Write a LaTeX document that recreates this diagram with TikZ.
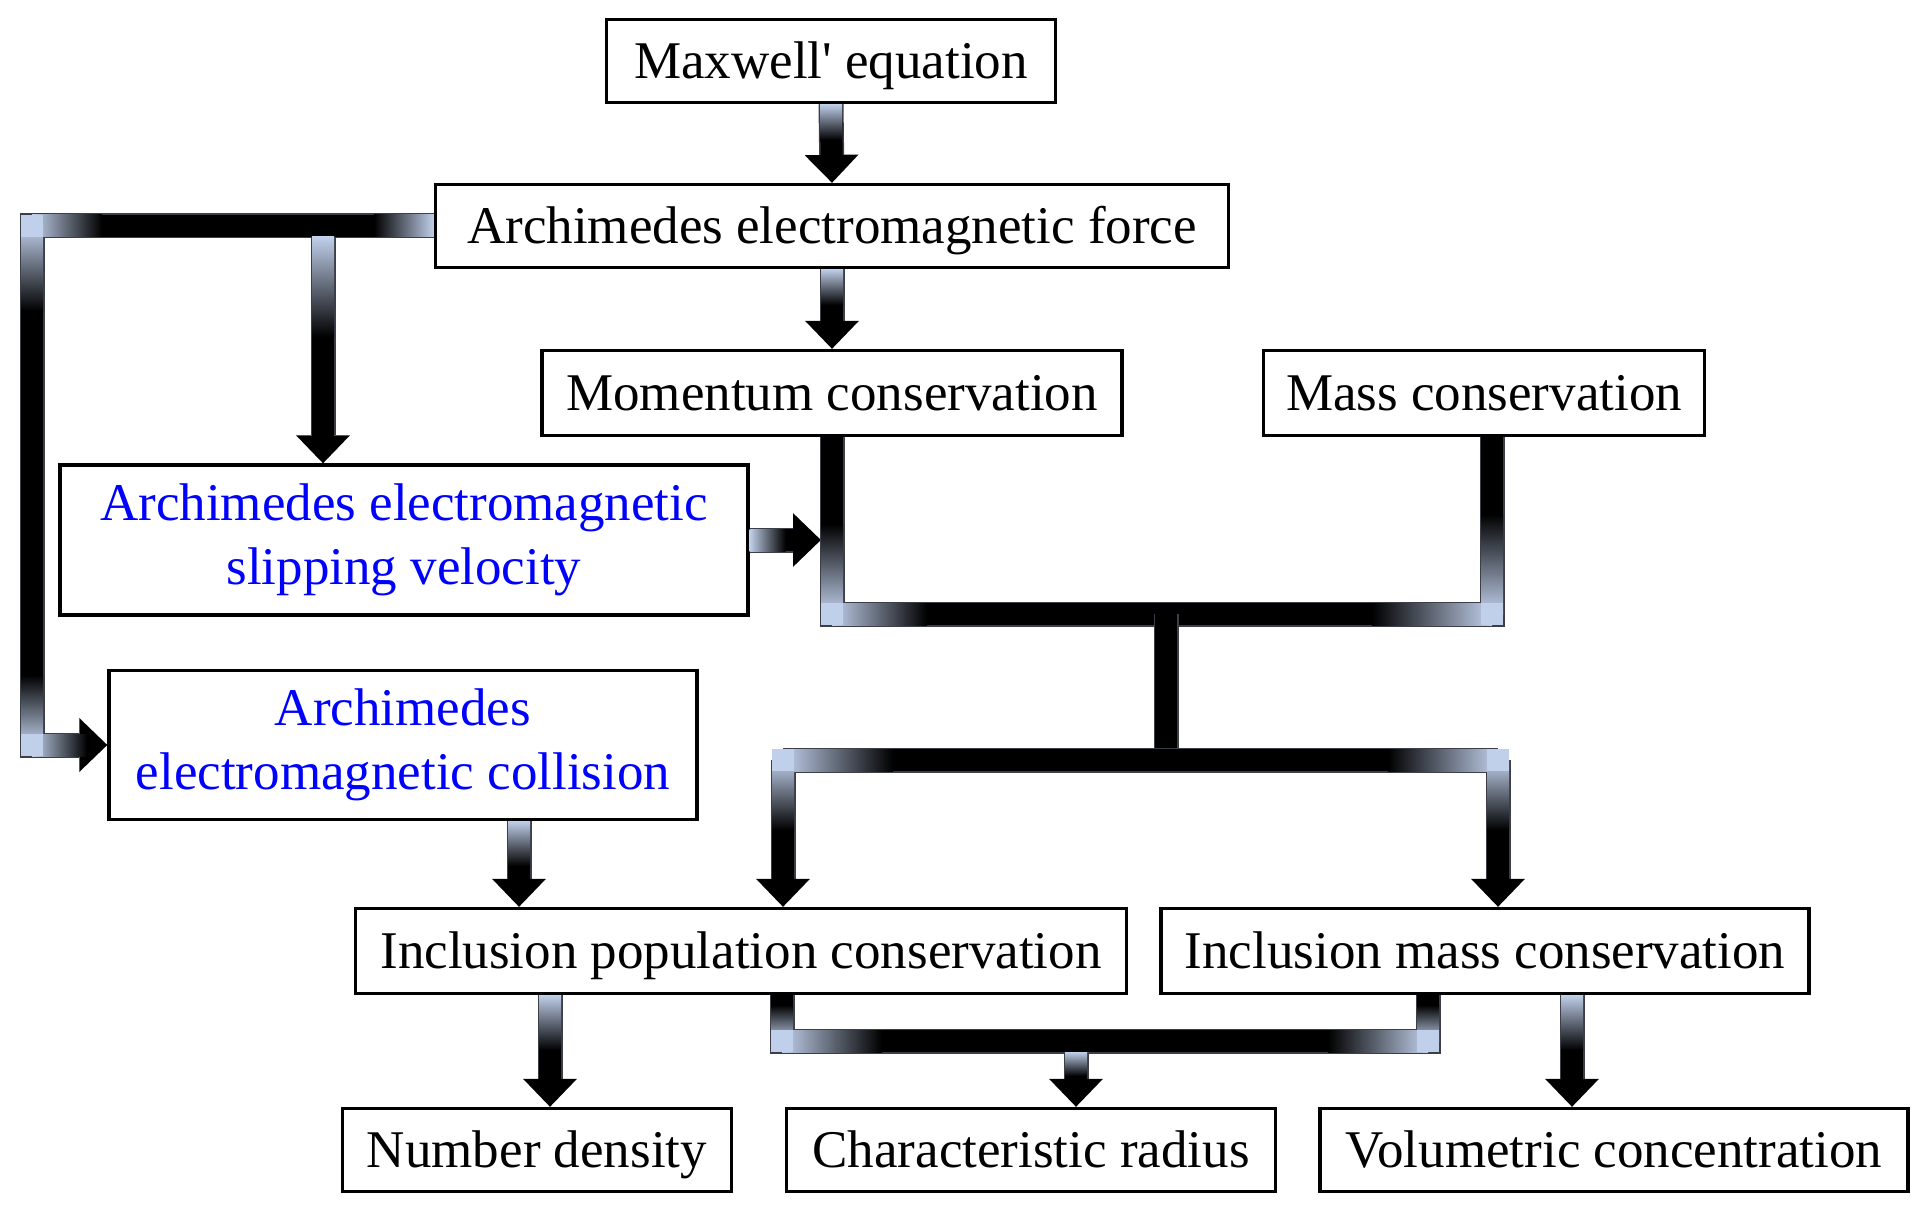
\documentclass[tikz,border=0pt]{standalone}
\usepackage{fontspec}
\setmainfont{Liberation Serif}
\usetikzlibrary{calc,arrows.meta}
\definecolor{pipelight}{RGB}{192,207,234}
\definecolor{pipeedge}{RGB}{60,62,72}
\definecolor{slipblue}{RGB}{0,0,255}

\tikzset{
  framed/.style={draw, line width=1.6pt, fill=white, inner sep=2pt,
    minimum height=41.5pt, align=center,
    font=\fontsize{26.5}{32}\selectfont},
  box/.style={framed, text height=22pt, text depth=4.5pt},
  bluebox/.style={framed, text=slipblue},
  pipeout/.style={line width=12.5pt, pipeedge, line join=miter},
  pipein/.style={line width=11pt, black, line join=miter},
  headed/.style={-{Triangle[width=26pt,length=14pt]}}
}
% a pipe, and a pipe ending in a head
\newcommand\pipeto[1]{\draw[pipeout] #1; \draw[pipein] #1;}
\newcommand\arrowto[1]{\draw[pipeout,shorten >=14pt] #1; \draw[pipein,headed] #1;}
% light ends of the pipes: point, length
\newcommand\fadeR[2]{\shade[left color=pipelight,right color=black] ($(#1)+(0,-11)$) rectangle ($(#1)+(#2,11)$);}
\newcommand\fadeL[2]{\shade[left color=black,right color=pipelight] ($(#1)+(-#2,-11)$) rectangle ($(#1)+(0,11)$);}
\newcommand\fadeD[2]{\shade[top color=pipelight,bottom color=black] ($(#1)+(-11,0)$) rectangle ($(#1)+(11,#2)$);}
\newcommand\fadeU[2]{\shade[top color=black,bottom color=pipelight] ($(#1)+(-11,-#2)$) rectangle ($(#1)+(11,0)$);}
\newcommand\corner[1]{\fill[pipelight] ($(#1)+(-11,-11)$) rectangle ($(#1)+(11,11)$);}

\begin{document}
\begin{tikzpicture}[x=0.5pt,y=-0.5pt]
  \useasboundingbox (0,0) rectangle (1920,1214);
  % boxes
  \node[box, minimum width=224.5pt] (maxwell) at (831,61) {Maxwell\textquotesingle{} equation};
  \node[box, minimum width=396.5pt] (force) at (832,226) {Archimedes electromagnetic force};
  \node[box, minimum width=290pt, minimum height=42.5pt] (momentum) at (832,393) {Momentum conservation};
  \node[box, minimum width=220.5pt, minimum height=42.5pt] (mass) at (1484,393) {Mass conservation};
  \node[bluebox, minimum width=344pt, minimum height=75pt] (slip) at (404,540) {Archimedes electromagnetic\\slipping velocity};
  \node[bluebox, minimum width=294pt, minimum height=74.5pt] (collision) at (403,745) {Archimedes\\electromagnetic collision};
  \node[box, minimum width=385.5pt, minimum height=42.5pt] (incpop) at (741,951) {Inclusion population conservation};
  \node[box, minimum width=324pt, minimum height=42.5pt] (incmass) at (1485,951) {Inclusion mass conservation};
  \node[box, minimum width=194.5pt] (number) at (537,1150) {Number density};
  \node[box, minimum width=244.5pt] (radius) at (1031,1150) {Characteristic radius};
  \node[box, minimum width=294pt] (volume) at (1614,1150) {Volumetric concentration};

  % bends and junctions
  \coordinate (c1) at (32,0 |- force.west);
  \coordinate (c2) at (c1 |- collision.west);
  \coordinate (b1) at ($(323,0 |- force.west)+(0,11)$);
  \coordinate (j1) at (momentum.south |- 0,614);
  \coordinate (j2) at (1492,614);
  \coordinate (s1) at ($(slip.east -| j1)+(-11,0)$);
  \coordinate (st1) at (1166,614);
  \coordinate (st2) at (1166,760);
  \coordinate (k1) at (783,760);
  \coordinate (k2) at (1498,760);
  \coordinate (u1) at (782,1041);
  \coordinate (u2) at (1428,1041);
  \coordinate (r1) at (1076,1052);

  % pipes
  \arrowto{(maxwell.south) -- (force.north)}
  \arrowto{(force.south) -- (momentum.north)}
  \arrowto{(force.west) -- (c1) -- (c2) -- (collision.west)}
  \arrowto{(b1) -- (b1 |- slip.north)}
  \arrowto{(slip.east) -- (s1)}
  \pipeto{(momentum.south) -- (j1) -- (j2) -- (j2 |- mass.south)}
  \pipeto{(st1) -- (st2)}
  \arrowto{(k1) -- (k1 |- incpop.north)}
  \arrowto{(k2) -- (k2 |- incmass.north)}
  \pipeto{(k1) -- (k2)}
  \arrowto{(collision.south -| 519,0) -- (519,0 |- incpop.north)}
  \arrowto{(incpop.south -| 550,0) -- (550,0 |- number.north)}
  \arrowto{(incmass.south -| 1572,0) -- (1572,0 |- volume.north)}
  \pipeto{(incpop.south -| u1) -- (u1) -- (u2) -- (incmass.south -| u2)}
  \arrowto{(r1) -- (r1 |- radius.north)}

  % light ends
  \fadeD{maxwell.south}{36}
  \fadeD{force.south}{36}
  \fadeL{force.west}{60}
  \fadeR{c1}{70}   \fadeD{c1}{85}  \corner{c1}
  \fadeU{c2}{70}   \fadeR{c2}{55}  \corner{c2}
  \fadeD{b1}{100}
  \fadeR{slip.east}{36}
  \fadeU{j1}{90}   \fadeR{j1}{95}  \corner{j1}
  \fadeU{j2}{100}  \fadeL{j2}{120} \corner{j2}
  \fadeR{k1}{110}  \fadeD{k1}{70}  \corner{k1}
  \fadeL{k2}{110}  \fadeD{k2}{70}  \corner{k2}
  \fadeD{collision.south -| 519,0}{45}
  \fadeD{incpop.south -| 550,0}{55}
  \fadeD{incmass.south -| 1572,0}{55}
  \fadeU{u1}{36}   \fadeR{u1}{100} \corner{u1}
  \fadeU{u2}{36}   \fadeL{u2}{100} \corner{u2}
  \fadeD{r1}{24}
\end{tikzpicture}
\end{document}
